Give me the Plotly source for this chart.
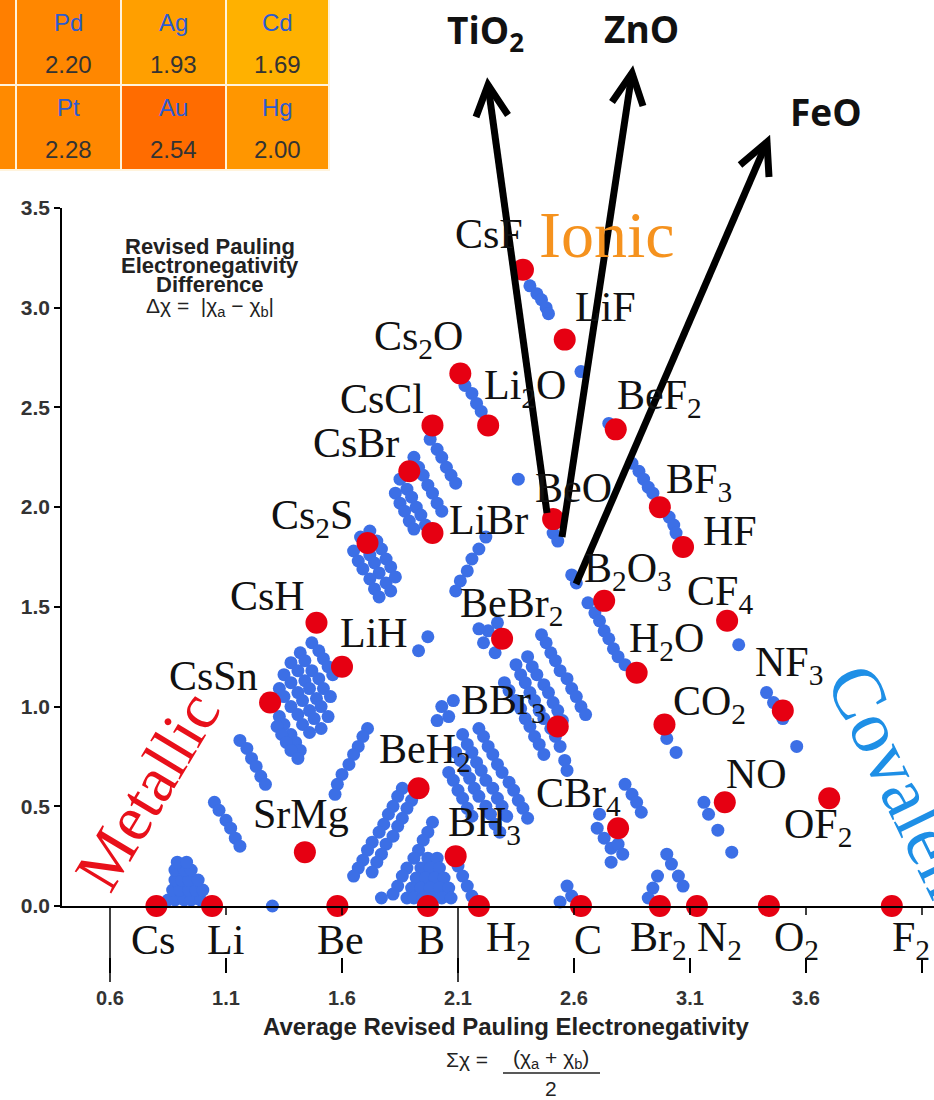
import plotly.graph_objects as go

W, H = 934, 1100

# ---------------- data ----------------
compound_names = ["CsF", "LiF", "Cs<sub>2</sub>O", "Li<sub>2</sub>O", "CsCl", "BeF<sub>2</sub>", "CsBr",
                  "BeO", "BF<sub>3</sub>", "LiBr", "HF", "Cs<sub>2</sub>S", "B<sub>2</sub>O<sub>3</sub>",
                  "CF<sub>4</sub>", "CsH", "BeBr<sub>2</sub>", "LiH", "H<sub>2</sub>O", "CsSn",
                  "NF<sub>3</sub>", "BBr<sub>3</sub>", "CO<sub>2</sub>", "BeH<sub>2</sub>", "NO",
                  "OF<sub>2</sub>", "CBr<sub>4</sub>", "SrMg", "BH<sub>3</sub>"]
compound_avg = [2.38, 2.56, 2.11, 2.23, 1.99, 2.78, 1.89, 2.51, 2.97, 1.99, 3.07, 1.71, 2.73, 3.26,
                1.49, 2.29, 1.60, 2.87, 1.29, 3.50, 2.53, 2.99, 1.93, 3.25, 3.70, 2.79, 1.44, 2.09]
compound_diff = [3.19, 2.84, 2.67, 2.41, 2.41, 2.39, 2.18, 1.94, 2.00, 1.87, 1.80, 1.82, 1.53, 1.43,
                 1.42, 1.34, 1.20, 1.17, 1.02, 0.98, 0.90, 0.91, 0.59, 0.52, 0.54, 0.39, 0.27, 0.25]

element_names = ["Cs", "Li", "Be", "B", "H<sub>2</sub>", "C", "Br<sub>2</sub>", "N<sub>2</sub>",
                 "O<sub>2</sub>", "F<sub>2</sub>"]
element_avg = [0.80, 1.04, 1.58, 1.97, 2.19, 2.63, 2.97, 3.13, 3.44, 3.97]
element_diff = [0, 0, 0, 0, 0, 0, 0, 0, 0, 0]

x_tick_vals = [0.6, 1.1, 1.6, 2.1, 2.6, 3.1, 3.6, 4.1]
x_tick_text = ["0.6", "1.1", "1.6", "2.1", "2.6", "3.1", "3.6", "4.1"]

# other binary compounds (blue), grouped by region of the triangle
metallic_pts = [(0.85, 0.03), (0.88, 0.03), (0.92, 0.03), (0.95, 0.03), (0.99, 0.03),
                (0.87, 0.08), (0.90, 0.08), (0.94, 0.08), (0.97, 0.08), (1.00, 0.08),
                (0.88, 0.13), (0.91, 0.13), (0.94, 0.13), (0.98, 0.13),
                (0.88, 0.18), (0.92, 0.18), (0.95, 0.18), (0.89, 0.22), (0.93, 0.22),
                (1.05, 0.52), (1.07, 0.48), (1.10, 0.43), (1.12, 0.39), (1.14, 0.34), (1.16, 0.30),
                (1.30, 0.00)]
cs_li_cluster_pts = [(1.47, 1.32), (1.50, 1.28), (1.52, 1.24), (1.54, 1.20), (1.56, 1.16),
                     (1.42, 1.27), (1.44, 1.23), (1.47, 1.18), (1.50, 1.14), (1.52, 1.09), (1.55, 1.05),
                     (1.38, 1.22), (1.41, 1.18), (1.44, 1.13), (1.46, 1.09), (1.49, 1.04), (1.51, 1.00), (1.54, 0.95),
                     (1.35, 1.16), (1.38, 1.12), (1.41, 1.07), (1.43, 1.03), (1.46, 0.98), (1.48, 0.94), (1.51, 0.89),
                     (1.33, 1.09), (1.35, 1.05), (1.38, 1.00), (1.41, 0.96), (1.43, 0.91), (1.46, 0.87),
                     (1.33, 0.95), (1.35, 0.91), (1.38, 0.86), (1.40, 0.82), (1.42, 0.78),
                     (1.16, 0.83), (1.19, 0.79), (1.21, 0.74), (1.23, 0.70), (1.25, 0.65), (1.27, 0.61),
                     (1.32, 0.90), (1.34, 0.86), (1.36, 0.82), (1.38, 0.78), (1.41, 0.74)]
halide_pts = [(1.68, 1.85), (1.70, 1.81), (1.72, 1.76), (1.74, 1.72), (1.76, 1.67), (1.79, 1.62), (1.81, 1.58),
              (1.72, 1.88), (1.75, 1.83), (1.77, 1.79), (1.79, 1.74), (1.81, 1.70), (1.83, 1.65),
              (1.65, 1.78), (1.67, 1.73), (1.69, 1.69), (1.72, 1.64), (1.74, 1.59), (1.76, 1.55),
              (1.98, 2.34), (2.01, 2.29), (2.03, 2.25), (2.05, 2.20), (2.07, 2.16), (2.09, 2.12),
              (1.91, 2.25), (1.93, 2.20), (1.95, 2.16), (1.97, 2.11), (1.99, 2.07), (2.01, 2.02), (2.03, 1.98),
              (1.85, 2.14), (1.88, 2.09), (1.90, 2.05), (1.92, 2.00), (1.94, 1.96), (1.96, 1.91),
              (1.83, 2.07), (1.85, 2.02), (1.87, 1.98), (1.89, 1.93), (1.91, 1.89),
              (2.13, 2.61), (2.16, 2.57), (2.18, 2.52), (2.20, 2.48),
              (2.41, 3.11), (2.44, 3.07), (2.46, 3.04), (2.48, 3.00), (2.49, 2.97),
              (2.63, 2.68), (2.36, 2.14), (2.51, 1.87), (2.53, 1.83)]
covalent_pts = [(2.75, 2.42), (2.85, 2.22), (2.88, 2.18), (2.90, 2.14), (2.92, 2.10), (2.94, 2.07),
                (3.01, 1.95), (3.03, 1.91), (3.04, 1.87),
                (2.59, 1.66), (2.61, 1.62), (2.66, 1.52), (2.69, 1.47), (2.71, 1.43), (2.73, 1.38),
                (2.75, 1.34), (2.77, 1.29), (2.79, 1.25), (2.82, 1.21),
                (3.31, 1.31), (3.43, 1.07), (3.46, 1.02), (3.50, 0.94), (3.56, 0.80),
                (3.00, 0.84), (3.04, 0.77),
                (3.16, 0.52), (3.18, 0.46), (3.22, 0.38), (3.28, 0.27),
                (3.00, 0.26), (3.02, 0.21), (3.05, 0.15), (3.07, 0.10), (2.96, 0.15), (2.94, 0.09), (2.92, 0.04),
                (2.70, 0.39), (2.73, 0.34), (2.76, 0.29), (2.79, 0.31), (2.81, 0.26), (2.76, 0.22), (2.71, 0.46),
                (2.82, 0.61), (2.85, 0.56), (2.87, 0.52), (2.89, 0.47),
                (2.57, 0.10), (2.59, 0.05), (2.54, 0.02)]
central_pts = [(2.22, 1.85), (2.19, 1.79), (2.16, 1.74), (2.14, 1.68), (2.11, 1.63), (2.09, 1.58),
               (1.97, 1.35), (1.93, 1.28),
               (2.23, 1.38), (2.21, 1.32), (2.26, 1.27), (2.27, 1.42), (2.19, 1.39),
               (2.03, 1.00), (2.06, 0.95), (2.08, 1.03), (2.01, 0.93),
               (2.35, 1.21), (2.37, 1.16), (2.39, 1.12), (2.41, 1.07), (2.43, 1.03), (2.45, 0.98),
               (2.47, 0.94), (2.50, 0.89), (2.52, 0.85), (2.54, 0.80),
               (2.40, 1.25), (2.42, 1.20), (2.44, 1.16), (2.47, 1.11), (2.49, 1.07), (2.51, 1.02),
               (2.53, 0.98), (2.55, 0.93),
               (2.46, 1.36), (2.48, 1.32), (2.50, 1.27), (2.52, 1.23), (2.54, 1.18), (2.57, 1.14),
               (2.59, 1.09), (2.61, 1.05), (2.63, 1.00), (2.65, 0.96),
               (2.30, 1.12), (2.32, 1.08), (2.35, 1.03), (2.37, 0.99), (2.39, 0.94), (2.41, 0.90),
               (2.43, 0.85), (2.45, 0.81), (2.47, 0.76),
               (2.56, 0.73), (2.57, 0.68),
               (2.12, 0.86), (2.14, 0.81), (2.16, 0.77), (2.18, 0.72), (2.20, 0.68), (2.22, 0.63),
               (2.25, 0.59), (2.27, 0.54), (2.29, 0.50), (2.31, 0.45),
               (2.19, 0.89), (2.21, 0.85), (2.23, 0.80), (2.25, 0.76), (2.27, 0.71), (2.29, 0.67),
               (2.32, 0.62), (2.34, 0.58), (2.36, 0.53), (2.38, 0.49), (2.40, 0.44),
               (2.09, 0.77), (2.11, 0.73), (2.13, 0.68), (2.15, 0.64), (2.17, 0.59), (2.19, 0.55),
               (2.22, 0.50), (2.24, 0.46), (2.26, 0.41), (2.28, 0.37),
               (2.06, 0.67), (2.08, 0.63), (2.10, 0.58), (2.12, 0.54), (2.14, 0.49), (2.16, 0.45)]
semimetal_pts = [(1.71, 0.89), (1.69, 0.85), (1.67, 0.80), (1.65, 0.76), (1.63, 0.71), (1.60, 0.66),
                 (1.58, 0.61), (1.57, 0.56),
                 (1.86, 0.59), (1.84, 0.55), (1.82, 0.50), (1.80, 0.46), (1.78, 0.41), (1.76, 0.37),
                 (1.73, 0.32), (1.71, 0.28), (1.69, 0.23), (1.67, 0.19), (1.65, 0.15),
                 (1.90, 0.53), (1.88, 0.49), (1.86, 0.44), (1.84, 0.40), (1.82, 0.35), (1.79, 0.31),
                 (1.77, 0.26), (1.75, 0.22), (1.73, 0.17),
                 (1.99, 0.42), (1.97, 0.37), (1.95, 0.33), (1.93, 0.28), (1.91, 0.24), (1.88, 0.19),
                 (1.86, 0.15), (1.84, 0.10), (1.82, 0.06),
                 (1.97, 0.24), (2.01, 0.24), (1.94, 0.19), (1.98, 0.19), (2.02, 0.19),
                 (1.92, 0.14), (1.96, 0.14), (2.00, 0.14), (2.04, 0.14),
                 (1.90, 0.09), (1.94, 0.09), (1.98, 0.09), (2.02, 0.09), (2.06, 0.09),
                 (1.88, 0.04), (1.91, 0.04), (1.95, 0.04), (1.99, 0.04), (2.03, 0.04), (2.07, 0.04),
                 (2.10, 0.20), (2.12, 0.15), (2.14, 0.10), (2.16, 0.05), (1.77, 0.04)]

table_symbols = [["Pd", "Ag", "Cd"], ["Pt", "Au", "Hg"]]
table_values = [["2.20", "1.93", "1.69"], ["2.28", "2.54", "2.00"]]
arrow_labels = ["TiO<sub>2</sub>", "ZnO", "FeO"]

# ---------------- layout helpers (pixel -> paper) ----------------
def fx(p):
    return p / W


def fy(p):
    return 1 - p / H


def paper_text(x, y, text, size, color, family="Liberation Sans", weight="normal", angle=0, xanchor="center"):
    return dict(x=fx(x), y=fy(y), xref="paper", yref="paper", text=text, showarrow=False,
                xanchor=xanchor, yanchor="middle", textangle=angle,
                font=dict(family=family, size=size, color=color, weight=weight))


# label offsets in pixels relative to each red point
label_dx = [-34, 41, -42, 37, -50, 44, -53, 20, 39, 56, 47, -56, 24, -7, -49, 9, 32, 30, -57, 6, -54, 45, 6, 32, -11, -40, -4, 29]
label_dy = [36, 33, 35, 37, 26, 31, 28, 31, 25, 13, 16, 25, 30, 27, 27, 33, 34, 32, 27, 46, 24, 21, 36, 28, -29, 32, 38, 31]
element_dx = [-3, 13, 3, 3, 30, 7, -1, 23, 28, 19]

BLUE = "#3C6FE6"
RED = "#E60012"

blue_all = metallic_pts + cs_li_cluster_pts + halide_pts + covalent_pts + central_pts + semimetal_pts

fig = go.Figure()
fig.add_trace(go.Scatter(
    x=[p[0] for p in blue_all], y=[p[1] for p in blue_all], mode="markers",
    marker=dict(size=13, color=BLUE), cliponaxis=False, hoverinfo="skip"))
fig.add_trace(go.Scatter(
    x=compound_avg, y=compound_diff, mode="markers",
    marker=dict(size=22, color=RED), cliponaxis=False, hoverinfo="skip"))
fig.add_trace(go.Scatter(
    x=element_avg, y=element_diff, mode="markers", xaxis="x2",
    marker=dict(size=22, color=RED), cliponaxis=False, hoverinfo="skip"))

x_range = [0.6 - 48 / 232, 0.6 + 824 / 232]

annotations = []
# compound labels
for name, xv, yv, dx, dy in zip(compound_names, compound_avg, compound_diff, label_dx, label_dy):
    annotations.append(dict(x=xv, y=yv, xref="x", yref="y", text=name, showarrow=False,
                            xshift=dx, yshift=dy, xanchor="center", yanchor="middle",
                            font=dict(family="Liberation Serif", size=42, color="#111111")))
# element labels under axis
for name, xv, dx in zip(element_names, element_avg, element_dx):
    annotations.append(dict(x=xv, y=0, xref="x", yref="y", text=name, showarrow=False,
                            xshift=dx, yshift=-34, xanchor="center", yanchor="middle",
                            font=dict(family="Liberation Serif", size=42, color="#111111")))

# region words
annotations.append(paper_text(607, 234, "Ionic", 66, "#F5921E", family="Liberation Serif"))
annotations.append(paper_text(147, 791, "Metallic", 65, "#E8101A", family="Liberation Serif", angle=-59))
annotations.append(paper_text(906, 790, "Covalent", 74, "#1E8FE6", family="Liberation Serif", angle=64))

# y title block
for line, yy in zip(["Revised Pauling", "Electronegativity", "Difference"], [246, 265, 284]):
    annotations.append(paper_text(210, yy, line, 22, "#222222", weight="bold"))
annotations.append(paper_text(210, 307, "Δχ =  |χ<sub>a</sub> − χ<sub>b</sub>|", 21, "#222222"))

# x title block
annotations.append(paper_text(506, 1026, "Average Revised Pauling Electronegativity", 24, "#222222", weight="bold"))
annotations.append(paper_text(496, 1059, "Σχ = ", 21, "#222222", xanchor="right"))
annotations.append(paper_text(551, 1059, "(χ<sub>a</sub> + χ<sub>b</sub>)", 21, "#222222"))
annotations.append(paper_text(551, 1088, "2", 21, "#222222"))

# arrow labels
for lab, (ax_, ay_) in zip(arrow_labels, [(485, 32), (641, 28), (826, 111)]):
    annotations.append(paper_text(ax_, ay_, lab, 37, "#111111", family="Open Sans", weight="bold"))

# table
col_edges = [-90, 16, 121, 226, 329]
row_edges = [-85, 85, 170]
cell_colors = [["#FF7F00", "#FF8700", "#FF9F00", "#FFB100"],
               ["#FF8A00", "#FF8700", "#FF6C00", "#FF9600"]]
shapes = []
for r in range(2):
    for c in range(4):
        shapes.append(dict(type="rect", xref="paper", yref="paper",
                           x0=fx(col_edges[c]), x1=fx(col_edges[c + 1]),
                           y0=fy(row_edges[r + 1]), y1=fy(row_edges[r]),
                           fillcolor=cell_colors[r][c], line=dict(color="#FFF3DC", width=2), layer="below"))
for r in range(2):
    for c in range(3):
        cx = (col_edges[c + 1] + col_edges[c + 2]) / 2
        annotations.append(paper_text(cx, [23, 108][r], table_symbols[r][c], 24, "#2D5BD0"))
        annotations.append(paper_text(cx, [64, 149][r], table_values[r][c], 24, "#333333"))

# long / short axis ticks (decoration of the custom axis)
for xv in [0.6, 2.1]:
    shapes.append(dict(type="line", xref="x", yref="paper", x0=xv, x1=xv, y0=fy(906), y1=fy(982),
                       line=dict(color="black", width=1.5)))
for xv in [1.1, 1.6, 2.6, 3.1, 3.6, 4.1]:
    shapes.append(dict(type="line", xref="x", yref="paper", x0=xv, x1=xv, y0=fy(906), y1=fy(915),
                       line=dict(color="black", width=1.5)))
# fraction bar
shapes.append(dict(type="line", xref="paper", yref="paper", x0=fx(503), x1=fx(600), y0=fy(1073), y1=fy(1073),
                   line=dict(color="#222222", width=1.3)))

# arrows (shaft + head)
arrows = [((547, 513), (488, 85), (476, 117), (508, 115)),
          ((562, 537), (632, 73), (612, 102), (643, 106)),
          ((576, 584), (767, 142), (740, 165), (769, 177))]
for tail, tip, w1, w2 in arrows:
    shapes.append(dict(type="line", xref="paper", yref="paper", x0=fx(tail[0]), y0=fy(tail[1]),
                       x1=fx(tip[0]), y1=fy(tip[1]), line=dict(color="black", width=7), layer="above"))
    path = "M {} {} L {} {} L {} {}".format(fx(w1[0]), fy(w1[1]), fx(tip[0]), fy(tip[1]), fx(w2[0]), fy(w2[1]))
    shapes.append(dict(type="path", xref="paper", yref="paper", path=path,
                       line=dict(color="black", width=7), layer="above"))

fig.update_layout(
    width=W, height=H, margin=dict(l=0, r=0, t=0, b=0, pad=0, autoexpand=False),
    paper_bgcolor="white", plot_bgcolor="white", showlegend=False, hovermode=False,
    xaxis=dict(domain=[62 / W, 1], range=x_range, showline=True, linecolor="black", linewidth=1.5,
               ticks="", showticklabels=False, showgrid=False, zeroline=False, anchor="y", automargin=False),
    xaxis2=dict(overlaying="x", range=x_range, anchor="free", position=(H - 973) / H, side="bottom",
                showline=False, showgrid=False, zeroline=False, ticks="inside", ticklen=15, tickwidth=1.5,
                tickcolor="black", tickvals=x_tick_vals, ticktext=x_tick_text, ticklabelstandoff=11,
                automargin=False,
                tickfont=dict(family="Liberation Sans", size=20, color="#333333", weight="bold")),
    yaxis=dict(domain=[(H - 906) / H, (H - 208) / H], range=[0, 3.5], showline=True, linecolor="black",
               linewidth=1.5, ticks="outside", ticklen=6, tickwidth=1.5, tickcolor="black", dtick=0.5,
               tickformat=".1f", showgrid=False, zeroline=False, automargin=False,
               tickfont=dict(family="Liberation Sans", size=21, color="#333333", weight="bold")),
    annotations=annotations, shapes=shapes,
)

fig.write_html("out.html", config={"displayModeBar": False},
               post_script="document.body.style.margin='0';")
